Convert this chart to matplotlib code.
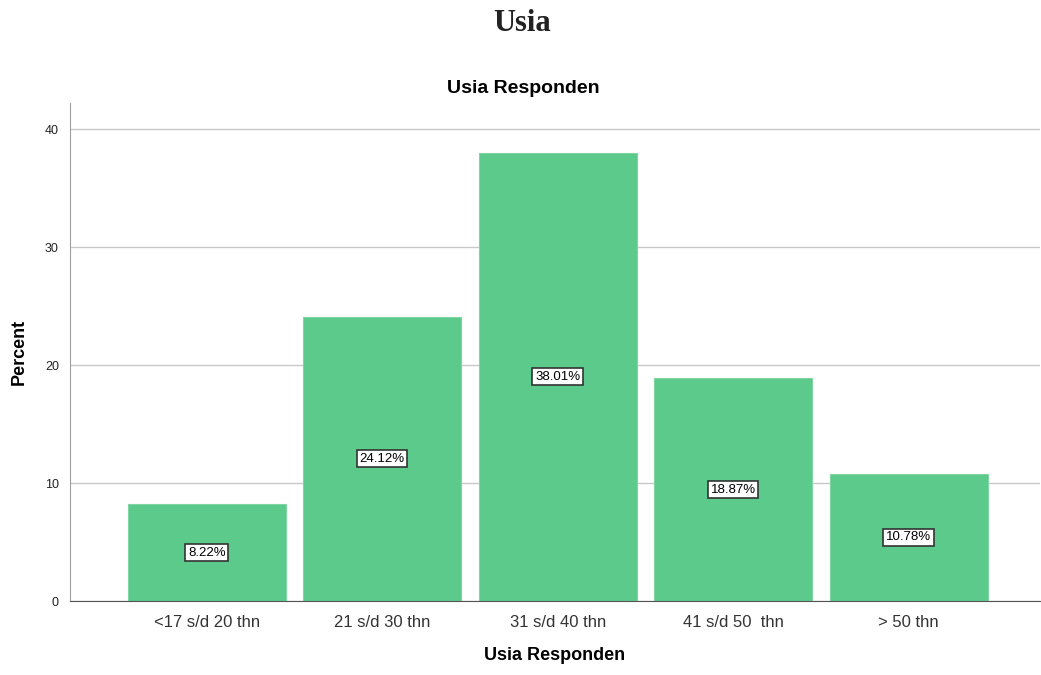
import matplotlib.pyplot as plt
import numpy as np

categories = ["<17 s/d 20 thn", "21 s/d 30 thn", "31 s/d 40 thn", "41 s/d 50  thn", "> 50 thn"]
percent = [8.22, 24.12, 38.01, 18.87, 10.78]
labels = ["8.22%", "24.12%", "38.01%", "18.87%", "10.78%"]

plt.rcParams['font.family'] = ['Liberation Sans', 'DejaVu Sans']

fig = plt.figure(figsize=(10.41, 6.75), dpi=100)
ax = fig.add_axes([0.0672, 0.1096, 0.932, 0.7374])

x = np.arange(len(categories))
ax.bar(x, percent, width=0.9, color='#5cca8b', edgecolor='#7fd6a3', linewidth=0.8, zorder=2)

for xi, v, lab in zip(x, percent, labels):
    ax.text(xi, v / 2, lab, ha='center', va='center', fontsize=9.5, color='black', zorder=3,
            bbox=dict(boxstyle='square,pad=0.2', facecolor='white', edgecolor='#333333', linewidth=1.2))

ax.set_xlim(-0.78, 4.75)
ax.set_ylim(0, 42.2)
ax.set_yticks([0, 10, 20, 30, 40])
ax.set_xticks(x)
ax.set_xticklabels(categories, fontsize=12, color='#333333')
ax.tick_params(axis='y', labelsize=9, length=0, pad=8, colors='#222222')
ax.tick_params(axis='x', length=0, pad=10)
ax.yaxis.grid(True, color='#c8c8c8', linewidth=1, zorder=0)
ax.set_axisbelow(True)

for s in ['top', 'right']:
    ax.spines[s].set_visible(False)
ax.spines['left'].set_color('#a0a0a0')
ax.spines['bottom'].set_color('#555555')

ax.set_ylabel("Percent", fontsize=13, fontweight='bold', labelpad=12)
ax.set_xlabel("Usia Responden", fontsize=13, fontweight='bold', labelpad=12)

fig.text(0.5025, 0.869, "Usia Responden", ha='center', va='center', fontsize=14, fontweight='bold')
fig.text(0.5015, 0.965, "Usia", ha='center', va='center', fontsize=22, fontweight='bold',
         family=['Liberation Serif', 'DejaVu Serif'], color='#222222')

fig.savefig("out.png", dpi=100)
